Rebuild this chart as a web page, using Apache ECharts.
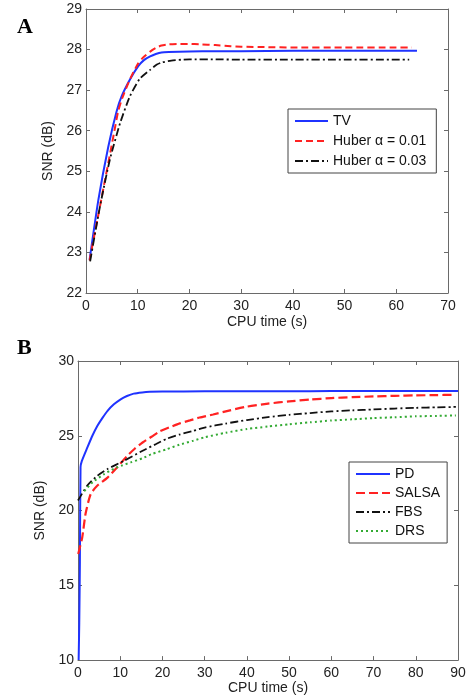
<!DOCTYPE html>
<html>
<head>
<meta charset="utf-8">
<script src="https://cdn.jsdelivr.net/npm/echarts@6/dist/echarts.min.js"></script>
<style>
html,body{margin:0;padding:0;background:#fff;}
#main{width:470px;height:696px;}
</style>
</head>
<body>
<div id="main"></div>
<script>
// ---- Panel A data ----
const aTicksX = [0, 10, 20, 30, 40, 50, 60, 70];
const aTicksY = [22, 23, 24, 25, 26, 27, 28, 29];
const aTvX = [0.7, 2.4, 4.3, 5.9, 6.9, 8.5, 10.1, 11.2, 12.4, 13.5, 14.6, 16, 20, 25, 30, 40, 50, 60, 64];
const aTvY = [22.82, 24.3, 25.6, 26.47, 26.85, 27.26, 27.59, 27.74, 27.83, 27.89, 27.93, 27.94, 27.95, 27.96, 27.96, 27.97, 27.97, 27.97, 27.97];
const aH1X = [0.7, 1.5, 2.5, 3.5, 4.5, 5.5, 6.2, 7, 8, 9, 10.1, 11, 12.4, 13.5, 14.6, 16, 18, 20, 22, 25, 28, 30, 35, 40, 50, 60, 63];
const aH1Y = [22.8, 23.35, 24.0, 24.67, 25.33, 26.0, 26.47, 26.8, 27.12, 27.4, 27.66, 27.8, 27.95, 28.04, 28.1, 28.13, 28.14, 28.14, 28.13, 28.11, 28.08, 28.07, 28.06, 28.05, 28.05, 28.05, 28.05];
const aH3X = [0.8, 2.7, 4.6, 6.6, 8.5, 10.4, 12.4, 13.7, 14.6, 16.5, 18.5, 20, 25, 30, 40, 50, 60, 62.5];
const aH3Y = [22.78, 24.13, 25.28, 26.19, 26.85, 27.28, 27.5, 27.63, 27.68, 27.73, 27.75, 27.76, 27.76, 27.75, 27.75, 27.75, 27.75, 27.75];

// ---- Panel B data ----
const bTicksX = [0, 10, 20, 30, 40, 50, 60, 70, 80, 90];
const bTicksY = [10, 15, 20, 25, 30];
const bPdX = [0.15, 0.3, 0.45, 0.6, 0.9, 2.2, 3.4, 4.6, 5.8, 7.0, 8.5, 10.1, 11.6, 13.2, 15.2, 17, 20, 30, 40, 50, 60, 70, 80, 90];
const bPdY = [10, 12.5, 16.6, 22.9, 23.3, 24.2, 25.0, 25.67, 26.2, 26.67, 27.1, 27.44, 27.66, 27.82, 27.9, 27.94, 27.96, 27.97, 27.98, 27.98, 27.99, 28.0, 28.0, 28.0];
const bSalsaX = [0.05, 1.0, 1.8, 3.0, 4.6, 7.0, 9.3, 11.7, 13.5, 15.3, 17.5, 19.4, 22, 24.1, 26.5, 28.8, 32, 36, 40, 45, 50, 55, 60, 65, 70, 75, 80, 85, 88.5];
const bSalsaY = [17.1, 18.2, 19.8, 21.1, 21.67, 22.2, 22.9, 23.67, 24.15, 24.55, 24.95, 25.3, 25.6, 25.83, 26.03, 26.22, 26.42, 26.7, 26.95, 27.15, 27.3, 27.42, 27.52, 27.58, 27.63, 27.67, 27.7, 27.72, 27.74];
const bFbsX = [0, 2.2, 4.6, 7, 10.9, 15.3, 18.5, 21, 24, 27.3, 30, 35, 40, 45, 50, 55, 60, 65, 70, 75, 80, 85, 89.5];
const bFbsY = [20.67, 21.67, 22.33, 22.78, 23.33, 24.0, 24.45, 24.8, 25.08, 25.33, 25.55, 25.82, 26.05, 26.25, 26.4, 26.52, 26.63, 26.7, 26.76, 26.82, 26.87, 26.9, 26.93];
const bDrsX = [1.5, 3.5, 6.2, 8.5, 10.5, 12.5, 15.3, 17.5, 21, 24, 27.3, 30, 35, 40, 45, 50, 55, 60, 65, 70, 75, 80, 85, 89.5];
const bDrsY = [21.3, 21.9, 22.44, 22.8, 23.02, 23.22, 23.5, 23.78, 24.1, 24.4, 24.67, 24.9, 25.2, 25.45, 25.62, 25.77, 25.9, 26.02, 26.1, 26.18, 26.24, 26.3, 26.33, 26.36];

const zip = (xs, ys) => xs.map((x, i) => [x, ys[i]]);

const FONT = 'Liberation Sans, Arial, sans-serif';
const TXT = '#222';
const FRAME = '#6a6a6a';

function xAx(gi, ticks, pos, showLabel, nameGap) {
  return {
    type: 'value', gridIndex: gi, position: pos,
    min: ticks[0], max: ticks[ticks.length - 1], interval: ticks[1] - ticks[0],
    axisLine: { show: true, onZero: false, lineStyle: { color: FRAME, width: 1 } },
    axisTick: { show: true, inside: true, length: 4, lineStyle: { color: FRAME } },
    axisLabel: { show: showLabel, color: TXT, fontSize: 14, fontFamily: FONT, margin: 6 },
    splitLine: { show: false },
    name: showLabel ? 'CPU time (s)' : '', nameLocation: 'middle', nameGap: nameGap,
    nameTextStyle: { color: TXT, fontSize: 14, fontFamily: FONT }
  };
}
function yAx(gi, ticks, pos, showLabel, nameGap) {
  return {
    type: 'value', gridIndex: gi, position: pos,
    min: ticks[0], max: ticks[ticks.length - 1], interval: ticks[1] - ticks[0],
    axisLine: { show: true, onZero: false, lineStyle: { color: FRAME, width: 1 } },
    axisTick: { show: true, inside: true, length: 4, lineStyle: { color: FRAME } },
    axisLabel: { show: showLabel, color: TXT, fontSize: 14, fontFamily: FONT, margin: 4 },
    splitLine: { show: false },
    name: showLabel ? 'SNR (dB)' : '', nameLocation: 'middle', nameGap: nameGap,
    nameTextStyle: { color: TXT, fontSize: 14, fontFamily: FONT }
  };
}
function ser(name, xi, yi, data, color, type, width) {
  return {
    name: name, type: 'line', xAxisIndex: xi, yAxisIndex: yi,
    data: data, showSymbol: false, symbol: 'circle', symbolSize: 0, smooth: 0.2, animation: false,
    lineStyle: { color: color, width: width, type: type },
    itemStyle: { color: color }
  };
}
const legendItemStyle = { color: 'rgba(0,0,0,0)', borderColor: 'rgba(0,0,0,0)', borderWidth: 0, opacity: 0 };

const chart = echarts.init(document.getElementById('main'), null, { renderer: 'canvas' });
chart.setOption({
  backgroundColor: '#fff',
  animation: false,
  title: [
    { text: 'A', left: 12, top: 11, textStyle: { fontFamily: 'Liberation Serif, Times New Roman, serif', fontWeight: 'bold', fontSize: 22, color: '#000' } },
    { text: 'B', left: 12, top: 332, textStyle: { fontFamily: 'Liberation Serif, Times New Roman, serif', fontWeight: 'bold', fontSize: 22, color: '#000' } }
  ],
  grid: [
    { left: 86, top: 9, width: 362, height: 284, show: false },
    { left: 78, top: 361, width: 380, height: 300, show: false }
  ],
  xAxis: [
    xAx(0, aTicksX, 'bottom', true, 22),
    xAx(0, aTicksX, 'top', false, 0),
    xAx(1, bTicksX, 'bottom', true, 20),
    xAx(1, bTicksX, 'top', false, 0)
  ],
  yAxis: [
    yAx(0, aTicksY, 'left', true, 16),
    yAx(0, aTicksY, 'right', false, 0),
    yAx(1, bTicksY, 'left', true, 20),
    yAx(1, bTicksY, 'right', false, 0)
  ],
  legend: [
    {
      data: ['TV', 'Huber α = 0.01', 'Huber α = 0.03'],
      orient: 'vertical', left: 288, top: 109,
      backgroundColor: '#fff', borderColor: '#444', borderWidth: 1,
      padding: [5, 10, 5, 6], itemWidth: 33, itemHeight: 14, itemGap: 6,
      itemStyle: legendItemStyle,
      textStyle: { color: '#111', fontSize: 14, fontFamily: FONT }
    },
    {
      data: ['PD', 'SALSA', 'FBS', 'DRS'],
      orient: 'vertical', left: 349, top: 462,
      backgroundColor: '#fff', borderColor: '#444', borderWidth: 1,
      padding: [5, 7, 5, 6], itemWidth: 34, itemHeight: 14, itemGap: 5,
      itemStyle: legendItemStyle,
      textStyle: { color: '#111', fontSize: 14, fontFamily: FONT }
    }
  ],
  series: [
    ser('TV', 0, 0, zip(aTvX, aTvY), '#1f33ff', 'solid', 2),
    ser('Huber α = 0.01', 0, 0, zip(aH1X, aH1Y), '#ff2222', [7, 4], 2),
    ser('Huber α = 0.03', 0, 0, zip(aH3X, aH3Y), '#111111', [8, 3, 2, 3], 1.8),
    ser('PD', 2, 2, zip(bPdX, bPdY), '#1f33ff', 'solid', 2),
    ser('SALSA', 2, 2, zip(bSalsaX, bSalsaY), '#ff2222', [9, 4], 2.2),
    ser('FBS', 2, 2, zip(bFbsX, bFbsY), '#111111', [8, 3, 2, 3], 1.8),
    ser('DRS', 2, 2, zip(bDrsX, bDrsY), '#33aa33', [2, 3], 2)
  ]
});
</script>
</body>
</html>
